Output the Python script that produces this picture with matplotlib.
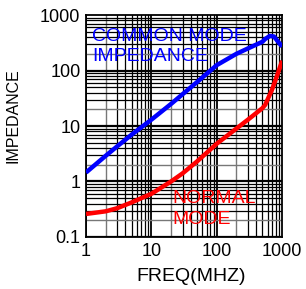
import matplotlib
matplotlib.use("Agg")
import matplotlib.pyplot as plt
import numpy as np

plt.rcParams['font.family'] = ['Liberation Sans', 'DejaVu Sans']

cm_freq = [1, 2, 3, 5, 10, 20, 50, 100, 200, 300, 500, 550, 650, 750, 850, 1000]
cm_imp = [1.45, 2.9, 4.3, 7, 13, 25, 62, 125, 200, 250, 330, 370, 420, 410, 340, 270]
nm_freq = [1, 2, 3, 5, 7, 10, 20, 30, 50, 100, 200, 300, 500, 550, 700, 850, 1000]
nm_imp = [0.26, 0.29, 0.33, 0.42, 0.5, 0.6, 1.0, 1.4, 2.3, 4.8, 9, 13, 21, 24, 45, 85, 150]
x_ticks = [1, 10, 100, 1000]
x_labels = ['1', '10', '100', '1000']
y_ticks = [0.1, 1, 10, 100, 1000]
y_labels = ['0.1', '1', '10', '100', '1000']

fig = plt.figure(figsize=(3.06, 2.89), dpi=100)
ax = fig.add_axes([0.281, 0.180, 0.641, 0.768])
ax.set_xscale('log')
ax.set_yscale('log')
ax.set_xlim(1, 1000)
ax.set_ylim(0.1, 1000)

# grid
for d in [1, 10, 100]:
    for m in range(1, 10):
        if m == 1:
            ax.axvline(d * m, color='black', lw=1.3, zorder=1)
        elif m == 2:
            ax.axvline(d * m, color='#777777', lw=1.0, zorder=1)
        else:
            ax.axvline(d * m, color='black', lw=0.9, zorder=1)
for d in [0.1, 1, 10, 100]:
    for m in range(1, 10):
        if m == 1:
            ax.axhline(d * m, color='black', lw=1.6, zorder=1)
        elif m == 2:
            ax.axhline(d * m, color='#777777', lw=1.0, zorder=1)
        else:
            ax.axhline(d * m, color='black', lw=0.9, zorder=1)

ax.plot(cm_freq, cm_imp, color='#0000ff', lw=3.2, zorder=3, solid_capstyle='butt')
ax.plot(nm_freq, nm_imp, color='#ff0000', lw=3.2, zorder=3, solid_capstyle='butt')

ax.text(1.25, 590, 'COMMON MODE\nIMPEDANCE', color='#0000ff', fontsize=14,
        va='top', ha='left', linespacing=1.25, zorder=4)
ax.text(21, 0.69, 'NORMAL\nMODE', color='#ff0000', fontsize=14,
        va='top', ha='left', linespacing=1.25, zorder=4)

ax.set_xticks(x_ticks)
ax.set_xticklabels(x_labels)
ax.set_yticks(y_ticks)
ax.set_yticklabels(y_labels)
ax.minorticks_off()
ax.tick_params(length=0, labelsize=13, pad=4)
for s in ax.spines.values():
    s.set_linewidth(1.3)
ax.set_xlabel('FREQ(MHZ)', fontsize=14)
ax.set_ylabel('IMPEDANCE', fontsize=11.5)
ax.xaxis.set_label_coords(0.536, -0.176)
ax.yaxis.set_label_coords(-0.372, 0.545)
ax.xaxis.label.set_va('center')
ax.yaxis.label.set_va('center')

fig.savefig('out.png', dpi=100)
